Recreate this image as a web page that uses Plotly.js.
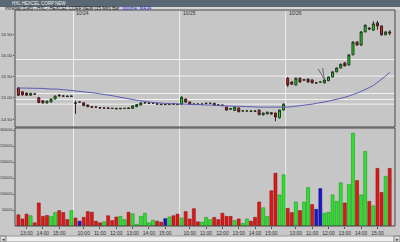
<!DOCTYPE html>
<html><head><meta charset="utf-8">
<script src="https://cdn.plot.ly/plotly-3.0.1.min.js"></script>
<style>html,body{margin:0;padding:0;background:#c8c8c8;}#chart{width:400px;height:242px;}</style>
</head><body><div id="chart"></div>
<script>
// ---- data ----
const dayLabels = ['10/23','10/24','10/25','10/26'];
const firstBarTime = '12:30';
const sessionOpen = '09:30';
const lastBarTime = '15:45';
const hourLabels = ['10:00','11:00','12:00','13:00','14:00','15:00'];
const priceTicks = [14.5, 15.0, 15.5, 16.0, 16.5];
const volTicks = [50000, 100000, 150000, 200000, 250000, 300000];
const levels = [15.90, 15.51, 15.10, 14.96, 14.85];

const open = [15.23,15.14,15.11,15.06,15.09,15.00,14.93,14.88,14.90,14.97,15.06,15.04,15.04,15.03,
 14.88,14.90,14.88,14.83,14.79,14.78,14.77,14.76,14.76,14.75,14.75,14.74,14.75,14.76,14.75,14.79,14.83,14.88,14.88,14.87,14.86,14.85,14.84,14.84,14.86,14.85,
 14.85,14.97,14.90,14.85,14.85,14.85,14.86,14.87,14.87,14.83,14.83,14.78,14.73,14.70,14.76,14.69,14.69,14.69,14.68,14.71,14.60,14.62,14.65,14.64,14.53,14.71,
 15.46,15.37,15.30,15.46,15.41,15.44,15.42,15.35,15.37,15.35,15.40,15.49,15.61,15.70,15.82,15.77,16.01,16.31,16.24,16.55,16.64,16.59,16.76,16.69,16.48,16.55];
const high = [15.25,15.16,15.12,15.12,15.10,15.02,14.94,14.93,14.98,15.05,15.09,15.05,15.05,15.05,
 14.93,14.91,14.89,14.84,14.80,14.79,14.78,14.77,14.77,14.76,14.76,14.75,14.76,14.77,14.82,14.85,14.89,14.89,14.89,14.88,14.87,14.86,14.85,14.86,14.87,14.86,
 15.04,14.98,14.91,14.86,14.86,14.86,14.88,14.88,14.88,14.84,14.84,14.79,14.74,14.79,14.77,14.70,14.70,14.70,14.70,14.72,14.65,14.67,14.66,14.65,14.72,14.87,
 15.49,15.39,15.48,15.48,15.44,15.45,15.43,15.37,15.38,15.43,15.50,15.62,15.71,15.80,15.84,16.02,16.33,16.33,16.57,16.72,16.66,16.80,16.81,16.70,16.56,16.59];
const low = [15.04,15.05,15.05,15.05,15.08,14.87,14.86,14.86,14.89,14.96,15.02,15.03,15.02,15.02,
 14.62,14.88,14.80,14.78,14.77,14.77,14.75,14.75,14.75,14.74,14.74,14.73,14.74,14.74,14.74,14.78,14.82,14.87,14.86,14.86,14.85,14.84,14.83,14.83,14.84,14.83,
 14.83,14.88,14.84,14.84,14.83,14.84,14.85,14.86,14.82,14.82,14.81,14.70,14.72,14.69,14.66,14.68,14.68,14.67,14.67,14.59,14.58,14.61,14.60,14.45,14.51,14.70,
 15.25,15.30,15.29,15.36,15.40,15.36,15.34,15.33,15.36,15.34,15.39,15.48,15.60,15.69,15.74,15.76,16.00,16.23,16.22,16.54,16.59,16.58,16.60,16.46,16.47,16.47];
const close = [15.06,15.07,15.06,15.10,15.09,14.89,14.88,14.92,14.97,15.04,15.05,15.04,15.03,15.04,
 14.87,14.90,14.82,14.79,14.78,14.78,14.76,14.76,14.75,14.75,14.74,14.75,14.75,14.75,14.81,14.84,14.88,14.88,14.87,14.87,14.85,14.84,14.84,14.85,14.85,14.84,
 15.01,14.90,14.85,14.85,14.85,14.85,14.87,14.87,14.83,14.83,14.82,14.71,14.74,14.78,14.67,14.69,14.69,14.68,14.69,14.60,14.64,14.66,14.62,14.55,14.71,14.85,
 15.30,15.32,15.46,15.37,15.43,15.37,15.35,15.35,15.37,15.42,15.49,15.61,15.70,15.79,15.75,16.01,16.31,16.24,16.55,16.71,16.62,16.74,16.69,16.48,16.55,16.52];
const ma34 = [15.23,15.23,15.23,15.23,15.22,15.22,15.22,15.21,15.21,15.20,15.20,15.19,15.18,15.18,
 15.17,15.16,15.15,15.14,15.12,15.11,15.09,15.08,15.06,15.05,15.03,15.01,14.99,14.97,14.96,14.94,14.93,14.91,14.90,14.89,14.88,14.87,14.87,14.86,14.86,14.85,
 14.85,14.85,14.84,14.84,14.84,14.83,14.83,14.83,14.82,14.82,14.81,14.81,14.80,14.80,14.80,14.79,14.79,14.79,14.78,14.78,14.78,14.78,14.77,14.77,14.77,14.77,
 14.78,14.79,14.80,14.81,14.82,14.84,14.85,14.87,14.88,14.90,14.92,14.94,14.96,14.98,15.01,15.04,15.07,15.11,15.15,15.19,15.24,15.29,15.36,15.43,15.51,15.60];
const volume = [35000,22000,37000,32000,10000,72000,30000,33000,30000,42000,48000,42000,20000,48000,
 25000,15000,27000,45000,43000,15000,10000,13000,32000,17000,28000,30000,20000,43000,38000,5000,30000,40000,10000,18000,15000,12000,23000,28000,32000,37000,
 25000,45000,22000,54000,13000,12000,27000,20000,27000,20000,40000,30000,30000,17000,22000,8000,22000,15000,27000,75000,57000,30000,110000,165000,97000,160000,
 55000,42000,75000,48000,75000,120000,67000,52000,117000,40000,43000,97000,77000,135000,72000,130000,290000,142000,97000,233000,77000,63000,180000,105000,155000,180000];
const volDir = ['d','d','d','u','d','d','d','d','u','u','d','d','d','u',
 'd','f','d','d','d','d','d','u','d','d','d','u','u','d','u','u','u','u','u','u','d','d','f','u','d','d',
 'u','d','d','d','d','u','u','u','d','d','d','d','d','u','d','u','u','d','d','d','u','u','d','d','u','u',
 'd','d','u','d','u','u','d','f','f','u','u','u','u','u','d','u','u','d','u','u','d','u','d','d','u','d'];

// ---- build time index ----
const toMin = s => { const [h,m] = s.split(':').map(Number); return h*60+m; };
const bars = [];
dayLabels.forEach((d, di) => {
  const start = di === 0 ? toMin(firstBarTime) : toMin(sessionOpen);
  for (let m = start; m <= toMin(lastBarTime); m += 15) bars.push({day: di, m});
});
const x = bars.map((b, i) => i);
const tickvals = [], ticktext = [];
bars.forEach((b, i) => {
  if (b.m % 60 === 0) {
    const lbl = (b.m/60) + ':00';
    if (hourLabels.includes(lbl)) { tickvals.push(i); ticktext.push(lbl); }
  }
});
const dayStarts = [];
bars.forEach((b, i) => { if (i > 0 && b.day !== bars[i-1].day) dayStarts.push({i, label: dayLabels[b.day]}); });

const colorMap = {u:'#2fe02f', d:'#e01818', f:'#1818d0'};
const lineMap = {u:'#138a13', d:'#7a0c0c', f:'#0c0c70'};

const P = v => 1 - v/242; // pixel row -> paper fraction
const fnt = {family:'Liberation Sans, Arial, sans-serif', size:5, color:'#303030'};

const traces = [
  {type:'bar', x, y: volume, xaxis:'x', yaxis:'y2', width:0.74,
   marker:{color: volDir.map(d => colorMap[d]), line:{color: volDir.map(d => lineMap[d]), width:0.5}},
   hoverinfo:'skip'},
  {type:'scatter', mode:'lines', x, y: ma34, xaxis:'x', yaxis:'y',
   line:{color:'#5c5cb4', width:1}, hoverinfo:'skip'},
  {type:'candlestick', x, open, high, low, close, xaxis:'x', yaxis:'y', whiskerwidth:0,
   increasing:{line:{color:'#1e3a1e', width:1}, fillcolor:'#25dd25'},
   decreasing:{line:{color:'#3a1e1e', width:1}, fillcolor:'#dd1c1c'},
   hoverinfo:'skip'}
];

const shapes = [
  {type:'rect', xref:'paper', yref:'paper', x0:0, x1:1, y0:P(7), y1:1, fillcolor:'#5a6873', line:{width:0}},
  {type:'rect', xref:'paper', yref:'paper', x0:0, x1:1, y0:P(10), y1:P(7), fillcolor:'#d6d6d6', line:{width:0}},
  {type:'rect', xref:'paper', yref:'paper', x0:0, x1:1, y0:0, y1:P(236), fillcolor:'#ececec', line:{color:'#9a9a9a', width:1}},
  {type:'rect', xref:'paper', yref:'paper', x0:0, x1:6/400, y0:0, y1:P(236), fillcolor:'#dcdcdc', line:{color:'#808080', width:1}},
  {type:'rect', xref:'paper', yref:'paper', x0:394/400, x1:1, y0:0, y1:P(236), fillcolor:'#dcdcdc', line:{color:'#808080', width:1}}
];
levels.forEach(v => shapes.push({type:'line', layer:'below', xref:'x domain', yref:'y', x0:0, x1:1, y0:v, y1:v, line:{color:'#f2f2f2', width:1}}));
dayStarts.forEach(d => shapes.push({type:'line', layer:'below', xref:'x', yref:'paper', x0:d.i-0.5, x1:d.i-0.5, y0:P(226), y1:P(11), line:{color:'#eeeeee', width:1}}));
shapes.push({type:'rect', xref:'x domain', yref:'y domain', x0:0, x1:1, y0:0, y1:1, line:{color:'#4a4a4a', width:1}});
shapes.push({type:'rect', xref:'x domain', yref:'y2 domain', x0:0, x1:1, y0:0, y1:1, line:{color:'#4a4a4a', width:1}});

const annotations = [
  {xref:'paper', yref:'paper', x:10/400, y:P(3.5), xanchor:'left', yanchor:'middle', showarrow:false,
   text:'HXL HEXCEL CORP NEW', font:{family:fnt.family, size:4.5, color:'#f0f0f0'}},
  {xref:'paper', yref:'paper', x:3/400, y:P(8.5), xanchor:'left', yanchor:'middle', showarrow:false,
   text:'Intraday (Left) - HXL - HEXCEL CORP NEW (15 Min) Bar  <span style="color:#2a2ad0">Volume  MA34</span>',
   font:{family:fnt.family, size:4.5, color:'#202020'}},
  {xref:'paper', yref:'paper', x:3/400, y:P(239), xanchor:'center', yanchor:'middle', showarrow:false, text:'◂', font:{size:5, color:'#333'}},
  {xref:'paper', yref:'paper', x:397/400, y:P(239), xanchor:'center', yanchor:'middle', showarrow:false, text:'▸', font:{size:5, color:'#333'}},
  {xref:'x', yref:'y', x:75, y:high[75], ax:-7, ay:-12, showarrow:true, arrowhead:0, arrowwidth:0.8, arrowcolor:'#505050', text:''},
  {xref:'x', yref:'y', x:75, y:high[75], ax:-2, ay:-13, showarrow:true, arrowhead:0, arrowwidth:0.8, arrowcolor:'#505050', text:''}
];
dayStarts.forEach(d => annotations.push({xref:'x', yref:'paper', x:d.i-0.5, y:P(13), xanchor:'left', yanchor:'middle', xshift:1,
  showarrow:false, text:d.label, font:fnt}));

const layout = {
  width:400, height:242, margin:{l:0, r:0, t:0, b:0},
  paper_bgcolor:'#c8c8c8', plot_bgcolor:'#c6c6c6', showlegend:false, bargap:0,
  xaxis:{domain:[15/400, 395/400], range:[-0.83, 92.3], anchor:'y2', tickvals, ticktext,
    tickfont:fnt, ticks:'outside', ticklen:2, tickcolor:'#555', showgrid:false, zeroline:false,
    showline:false, rangeslider:{visible:false}, fixedrange:true},
  yaxis:{domain:[P(127), P(10)], range:[14.312, 17.065], tickvals:priceTicks, tickformat:'.2f',
    tickfont:{family:fnt.family, size:4.4, color:'#303030'}, ticks:'outside', ticklen:1, tickcolor:'#555',
    ticklabelstandoff:0, showgrid:false, zeroline:false, showline:false, anchor:'x', fixedrange:true},
  yaxis2:{domain:[P(226), P(128)], range:[0, 306250], tickvals:volTicks, tickformat:'d',
    tickfont:{family:fnt.family, size:3.7, color:'#303030'}, ticks:'outside', ticklen:1, tickcolor:'#555',
    ticklabelstandoff:0, showgrid:false, zeroline:false, showline:false, anchor:'x', fixedrange:true},
  shapes, annotations
};
Plotly.newPlot('chart', traces, layout, {staticPlot:true, displayModeBar:false});
</script>
</body></html>
